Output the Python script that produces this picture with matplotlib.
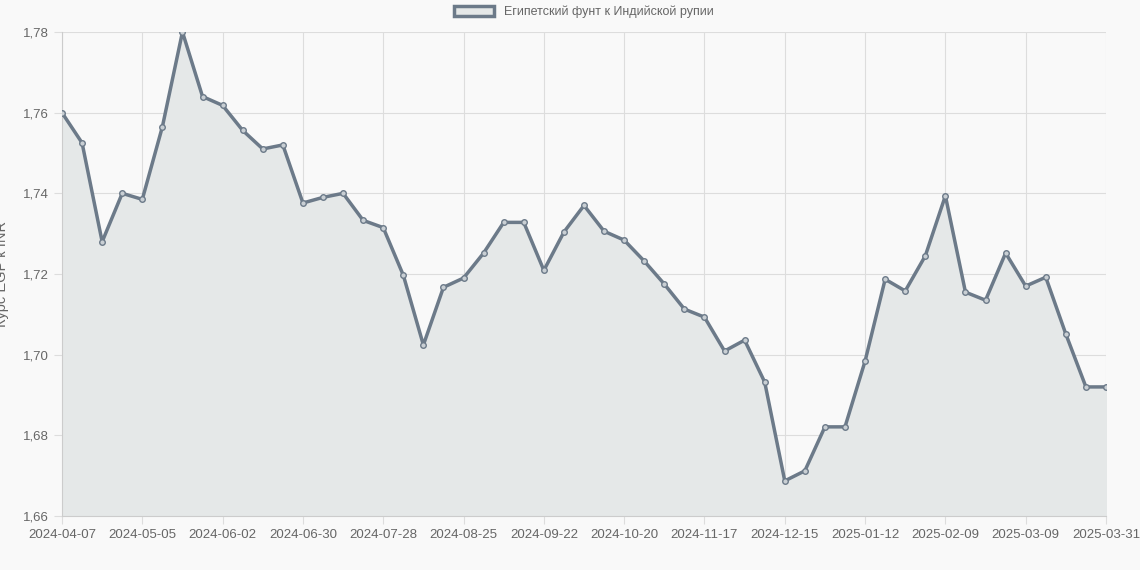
import pandas as pd
import matplotlib.pyplot as plt
from matplotlib.patches import Patch

plt.rcParams["font.family"] = ["Liberation Sans", "DejaVu Sans"]

# Weekly rate values (EGP -> INR)
rates = [1.760, 1.7525, 1.728, 1.740, 1.7385, 1.7565, 1.780, 1.764, 1.7618, 1.7556,
         1.751, 1.752, 1.7376, 1.739, 1.740, 1.7333, 1.7315, 1.7197, 1.7024, 1.7167,
         1.719, 1.7252, 1.7328, 1.7328, 1.7209, 1.7304, 1.737, 1.7306, 1.7284, 1.7232,
         1.7175, 1.7113, 1.7093, 1.7009, 1.7036, 1.6932, 1.6687, 1.6712, 1.6821, 1.6821,
         1.6984, 1.7187, 1.7158, 1.7245, 1.7394, 1.7155, 1.7135, 1.7252, 1.717, 1.7192,
         1.7051, 1.692, 1.692]
dates = [d.strftime("%Y-%m-%d") for d in pd.date_range("2024-04-07", periods=52, freq="7D")]
dates.append("2025-03-31")

line_color = "#6c7a89"
x = list(range(len(rates)))

fig = plt.figure(figsize=(11.4, 5.7), dpi=100, facecolor="#f9f9f9")
ax = fig.add_axes([62 / 1140, 54 / 570, 1044 / 1140, 484 / 570])
ax.set_facecolor("#f9f9f9")

ax.fill_between(x, rates, 1.66, color="#e5e8e8", zorder=1)
ax.plot(x, rates, color=line_color, linewidth=2.5, marker="o", markersize=4,
        markerfacecolor="#c9cfd4", markeredgecolor=line_color, markeredgewidth=1,
        zorder=3)

ax.set_xlim(0, len(rates) - 1)
ax.set_ylim(1.66, 1.78)
ticks = sorted(set(range(0, len(rates), 4)) | {len(rates) - 1})
ax.set_xticks(ticks)
ax.set_xticklabels([dates[i] for i in ticks])
ax.set_yticks([1.66 + 0.02 * i for i in range(7)])
ax.set_yticklabels([f"{1.66 + 0.02 * i:.2f}".replace(".", ",") for i in range(7)])
ax.tick_params(labelcolor="#666666", labelsize=9.5, length=6, width=0.8, color="#dddddd")

ax.grid(True, color="#dddddd", linewidth=0.8, zorder=0)
ax.set_axisbelow(True)
for side in ["top", "right"]:
    ax.spines[side].set_visible(False)
for side in ["left", "bottom"]:
    ax.spines[side].set_color("#cccccc")

ax.set_ylabel("Курс EGP к INR", color="#666666", fontsize=10.5, labelpad=10)

handle = Patch(facecolor="#e5e8e8", edgecolor=line_color, linewidth=2.5)
leg = ax.legend([handle], ["Египетский фунт к Индийской рупии"], loc="lower center",
                bbox_to_anchor=(0.5, 1.005), frameon=False, fontsize=9,
                handlelength=3.2, handleheight=0.9)
for t in leg.get_texts():
    t.set_color("#666666")

fig.savefig("out.png", dpi=100, facecolor=fig.get_facecolor())
